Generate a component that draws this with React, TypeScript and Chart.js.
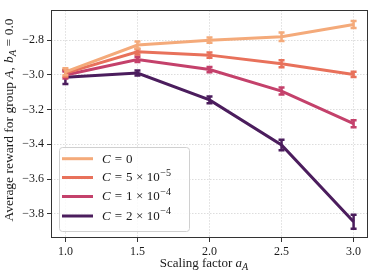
import React, { useEffect, useRef } from "react";
import { Chart, registerables } from "chart.js";

Chart.register(...registerables);

const scalingFactors = [1.0, 1.5, 2.0, 2.5, 3.0];
const xTicks = [1.0, 1.5, 2.0, 2.5, 3.0];
const yTicks = [-2.8, -3.0, -3.2, -3.4, -3.6, -3.8];

const seriesC0 = [-2.982, -2.828, -2.8, -2.78, -2.709];
const seriesC5e5 = [-2.99, -2.867, -2.886, -2.936, -2.997];
const seriesC1e4 = [-3.0, -2.911, -2.969, -3.093, -3.281];
const seriesC2e4 = [-3.013, -2.989, -3.144, -3.404, -3.846];

const errC0 = [0.02, 0.02, 0.015, 0.025, 0.02];
const errC5e5 = [0.02, 0.015, 0.015, 0.02, 0.015];
const errC1e4 = [0.02, 0.015, 0.015, 0.02, 0.02];
const errC2e4 = [0.04, 0.015, 0.02, 0.03, 0.04];

const colors = ["#f4aa7a", "#e8715b", "#c4416b", "#4b1d5d"];

type Seg = { t: string; it?: boolean; sup?: boolean; sub?: boolean; gap?: number };
const G = (n: number): Seg => ({ t: "", gap: n });
const legendLabels: Seg[][] = [
  [{ t: "C", it: true }, G(4), { t: "=" }, G(4), { t: "0" }],
  [{ t: "C", it: true }, G(4), { t: "=" }, G(4), { t: "5" }, G(3.5), { t: "×" }, G(3.5), { t: "10" }, G(0.5), { t: "−5", sup: true }],
  [{ t: "C", it: true }, G(4), { t: "=" }, G(4), { t: "1" }, G(3.5), { t: "×" }, G(3.5), { t: "10" }, G(0.5), { t: "−4", sup: true }],
  [{ t: "C", it: true }, G(4), { t: "=" }, G(4), { t: "2" }, G(3.5), { t: "×" }, G(3.5), { t: "10" }, G(0.5), { t: "−4", sup: true }],
];

const FONT = '"Liberation Serif", "DejaVu Serif", serif';

function segFont(s: Seg, size: number) {
  const sz = s.sup || s.sub ? size * 0.78 : size;
  return `${s.it ? "italic " : ""}${sz}px ${FONT}`;
}
function measureSegs(ctx: CanvasRenderingContext2D, segs: Seg[], size: number) {
  let w = 0;
  for (const s of segs) {
    if (s.gap) { w += s.gap; continue; }
    ctx.font = segFont(s, size);
    w += ctx.measureText(s.t).width;
  }
  return w;
}
function drawSegs(ctx: CanvasRenderingContext2D, segs: Seg[], x: number, y: number, size: number) {
  let cx = x;
  ctx.textBaseline = "middle";
  ctx.textAlign = "left";
  for (const s of segs) {
    if (s.gap) { cx += s.gap; continue; }
    ctx.font = segFont(s, size);
    const dy = s.sup ? -size * 0.38 : s.sub ? size * 0.28 : 0;
    ctx.fillText(s.t, cx, y + dy);
    cx += ctx.measureText(s.t).width;
  }
}

const fmt = (v: number) => (v < 0 ? "−" : "") + Math.abs(v).toFixed(1);

export default function App() {
  const ref = useRef<HTMLCanvasElement>(null);
  useEffect(() => {
    document.body.style.margin = "0";
    const errs = [errC0, errC5e5, errC1e4, errC2e4];
    const errorPlugin = {
      id: "errbars",
      afterDatasetDraw(chart: any, args: any) {
        const i = args.index;
        const ds = chart.data.datasets[i];
        const xs = chart.scales.x;
        const ys = chart.scales.y;
        const ctx = chart.ctx;
        ctx.save();
        ctx.strokeStyle = ds.borderColor;
        ctx.lineWidth = 2.5;
        ds.data.forEach((p: any, j: number) => {
          const px = xs.getPixelForValue(p.x);
          const y1 = ys.getPixelForValue(p.y + errs[i][j]);
          const y2 = ys.getPixelForValue(p.y - errs[i][j]);
          ctx.beginPath();
          ctx.moveTo(px, y1);
          ctx.lineTo(px, y2);
          ctx.moveTo(px - 3, y1);
          ctx.lineTo(px + 3, y1);
          ctx.moveTo(px - 3, y2);
          ctx.lineTo(px + 3, y2);
          ctx.stroke();
        });
        ctx.restore();
      },
    };
    const decorPlugin = {
      id: "decor",
      afterDraw(chart: any) {
        const ctx = chart.ctx as CanvasRenderingContext2D;
        const a = chart.chartArea;
        ctx.save();
        ctx.strokeStyle = "#333";
        ctx.lineWidth = 1;
        ctx.strokeRect(Math.round(a.left) + 0.5, Math.round(a.top) + 0.5, Math.round(a.right - a.left) - 1, Math.round(a.bottom - a.top) - 1);
        const lx = 59, ly = 147, lw = 130, lh = 84;
        ctx.fillStyle = "rgba(255,255,255,0.85)";
        ctx.strokeStyle = "#d0d0d0";
        ctx.lineWidth = 1;
        ctx.beginPath();
        (ctx as any).roundRect(lx + 0.5, ly + 0.5, lw, lh, 3);
        ctx.fill();
        ctx.stroke();
        const rows = [158.7, 177.5, 196.5, 216];
        rows.forEach((ry, i) => {
          ctx.strokeStyle = colors[i];
          ctx.lineWidth = 3;
          ctx.beginPath();
          ctx.moveTo(62, ry);
          ctx.lineTo(93, ry);
          ctx.stroke();
          ctx.fillStyle = "#1a1a1a";
          drawSegs(ctx, legendLabels[i], 102, ry + 0.5, 13);
        });
        const xt: Seg[] = [{ t: "Scaling factor " }, { t: "a", it: true }, { t: "A", it: true, sub: true }];
        const xw = measureSegs(ctx, xt, 13);
        ctx.fillStyle = "#1a1a1a";
        drawSegs(ctx, xt, 204 - xw / 2, 264, 13);
        const yt: Seg[] = [
          { t: "Average reward for group " },
          { t: "A", it: true },
          { t: "," },
          G(4),
          { t: "b", it: true },
          { t: "A", it: true, sub: true },
          G(3.5),
          { t: "=" },
          G(3.5),
          { t: "0.0" },
        ];
        const yw = measureSegs(ctx, yt, 13.5);
        ctx.translate(9, 120);
        ctx.rotate(-Math.PI / 2);
        drawSegs(ctx, yt, -yw / 2, 0, 13.5);
        ctx.restore();
      },
    };
    const mk = (data: number[], i: number) => ({
      label: "s" + i,
      data: scalingFactors.map((x, j) => ({ x, y: data[j] })),
      borderColor: colors[i],
      backgroundColor: colors[i],
      borderWidth: 3,
      pointRadius: 0,
      tension: 0,
    });
    const chart = new Chart(ref.current!, {
      type: "line",
      data: {
        datasets: [mk(seriesC0, 0), mk(seriesC5e5, 1), mk(seriesC1e4, 2), mk(seriesC2e4, 3)],
      },
      options: {
        animation: false,
        responsive: false,
        devicePixelRatio: 1,
        layout: { padding: { top: 1, right: 3, left: 0, bottom: 0 } },
        plugins: { legend: { display: false }, tooltip: { enabled: false } },
        scales: {
          x: {
            type: "linear",
            min: 0.9,
            max: 3.1,
            afterBuildTicks: (s: any) => {
              s.ticks = xTicks.map((v) => ({ value: v }));
            },
            afterFit: (s: any) => {
              s.height = 34;
            },
            ticks: { callback: (v: any) => fmt(Number(v)), font: { family: FONT, size: 12 }, color: "#1a1a1a", padding: 3, maxRotation: 0, autoSkip: false },
            grid: { color: "#d4d4d4", lineWidth: 0.8, tickLength: 4, tickColor: "#333", tickWidth: 1, tickBorderDash: [] },
            border: { display: false, dash: [1.5, 1.5] },
          },
          y: {
            type: "linear",
            min: -3.94,
            max: -2.627,
            afterBuildTicks: (s: any) => {
              s.ticks = yTicks.map((v) => ({ value: v }));
            },
            afterFit: (s: any) => {
              s.width = 51;
            },
            ticks: { callback: (v: any) => fmt(Number(v)), font: { family: FONT, size: 12 }, color: "#1a1a1a", padding: 3, autoSkip: false },
            grid: { color: "#d4d4d4", lineWidth: 0.8, tickLength: 4, tickColor: "#333", tickWidth: 1, tickBorderDash: [] },
            border: { display: false, dash: [1.5, 1.5] },
          },
        },
      },
      plugins: [errorPlugin, decorPlugin],
    } as any);
    return () => chart.destroy();
  }, []);
  return (
    <div style={{ position: "fixed", left: 0, top: 0, width: 371, height: 272 }}>
      <canvas ref={ref} width={371} height={272} style={{ width: 371, height: 272 }} />
    </div>
  );
}
